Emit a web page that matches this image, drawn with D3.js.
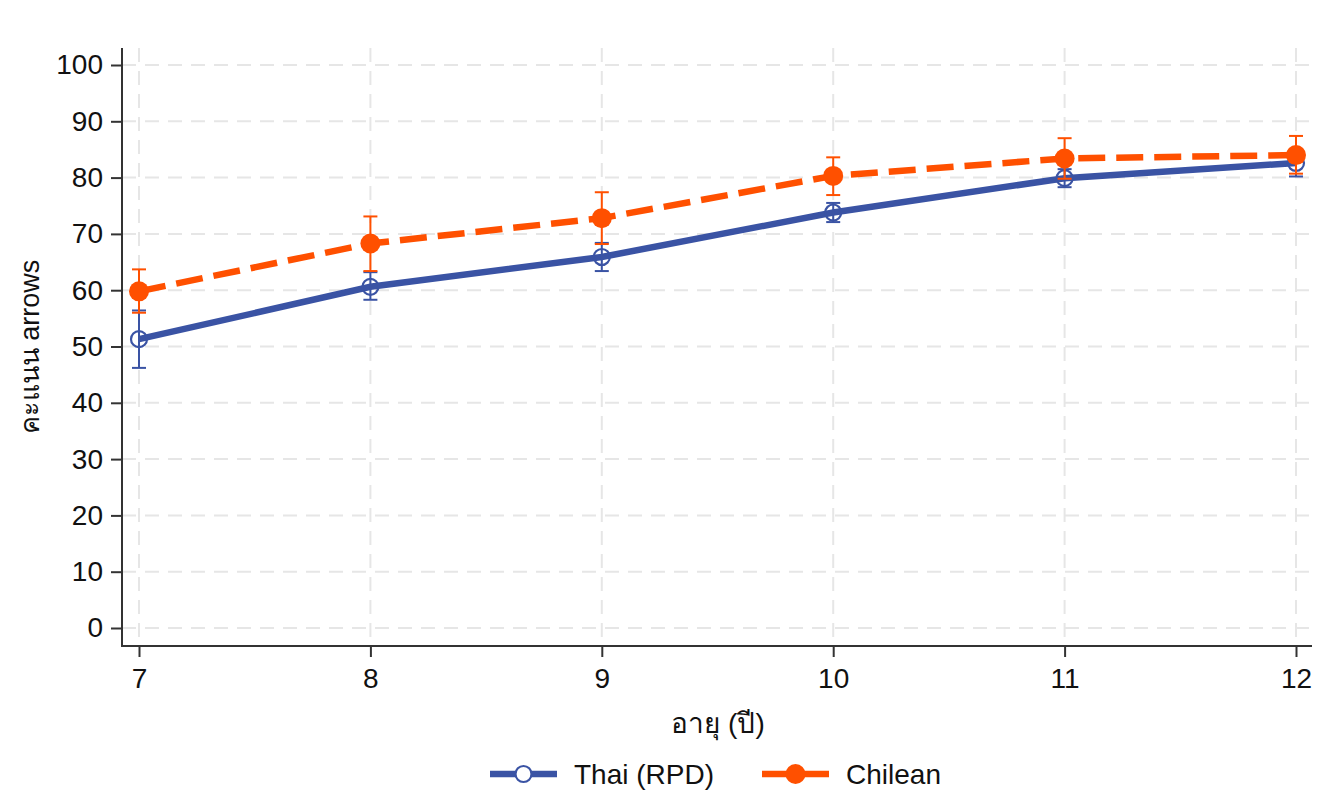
<!DOCTYPE html>
<html>
<head>
<meta charset="utf-8">
<script src="https://cdn.jsdelivr.net/npm/d3@7"></script>
<style>
  body { margin: 0; background: #fff; }
  svg text { font-family: "Liberation Sans", Arial, sans-serif; fill: #111; }
</style>
</head>
<body>
<div id="chart"></div>
<script>
const ages = [7, 8, 9, 10, 11, 12];
const thaiMean = [51.3, 60.6, 65.9, 73.8, 79.9, 82.6];
const thaiLow = [46.2, 58.3, 63.4, 72.1, 78.3, 80.2];
const thaiHigh = [56.4, 63.2, 68.4, 75.5, 81.5, 85.0];
const chileMean = [59.8, 68.3, 72.8, 80.3, 83.4, 84.0];
const chileLow = [56.0, 63.4, 68.2, 76.9, 79.8, 80.7];
const chileHigh = [63.7, 73.1, 77.4, 83.6, 87.0, 87.4];
const yTicks = [0, 10, 20, 30, 40, 50, 60, 70, 80, 90, 100];

const width = 1344, height = 809;
const svg = d3.select("#chart").append("svg")
  .attr("width", width).attr("height", height);

const x = d3.scaleLinear().domain([7, 12]).range([139, 1296]);
const y = d3.scaleLinear().domain([0, 100]).range([628, 65]);

const plotLeft = 122, plotBottom = 646, plotTop = 48, plotRight = 1312;

// grid
const grid = svg.append("g").attr("stroke", "#e6e6e6").attr("stroke-width", 2)
  .attr("stroke-dasharray", "14,9");
grid.selectAll(".gy").data(yTicks).enter().append("line")
  .attr("x1", plotLeft).attr("x2", plotRight)
  .attr("y1", d => y(d)).attr("y2", d => y(d));
grid.selectAll(".gx").data(ages).enter().append("line")
  .attr("x1", d => x(d)).attr("x2", d => x(d))
  .attr("y1", plotTop).attr("y2", plotBottom);

// axes
const yAxis = svg.append("g").attr("transform", `translate(${plotLeft},0)`)
  .call(d3.axisLeft(y).tickValues(yTicks).tickSize(11).tickPadding(8));
const xAxis = svg.append("g").attr("transform", `translate(0,${plotBottom})`)
  .call(d3.axisBottom(x).tickValues(ages).tickSize(11).tickPadding(11).tickFormat(d3.format("d")));
[yAxis, xAxis].forEach(a => {
  a.select(".domain").remove();
  a.selectAll(".tick line").attr("stroke", "#333").attr("stroke-width", 2);
  a.selectAll(".tick text").style("font-size", "28px").attr("fill", "#111");
});
svg.append("line").attr("x1", plotLeft).attr("x2", plotLeft).attr("y1", plotTop).attr("y2", plotBottom + 1)
  .attr("stroke", "#333").attr("stroke-width", 2);
svg.append("line").attr("x1", plotLeft - 1).attr("x2", plotRight).attr("y1", plotBottom).attr("y2", plotBottom)
  .attr("stroke", "#333").attr("stroke-width", 2);

// labels
svg.append("text").attr("transform", `translate(39,347) rotate(-90)`)
  .attr("text-anchor", "middle").style("font-size", "27px").text("คะแนน arrows");
svg.append("text").attr("x", 718).attr("y", 733)
  .attr("text-anchor", "middle").style("font-size", "28px").text("อายุ (ปี)");

const series = [
  { name: "Thai (RPD)", color: "#3a53a4", mean: thaiMean, lo: thaiLow, hi: thaiHigh, dash: null, filled: false },
  { name: "Chilean", color: "#ff5000", mean: chileMean, lo: chileLow, hi: chileHigh, dash: "27,11", filled: true }
];

const line = d3.line().x(d => x(d[0])).y(d => y(d[1]));

series.forEach(s => {
  const pts = ages.map((a, i) => [a, s.mean[i]]);
  const g = svg.append("g");
  g.append("path").datum(pts).attr("d", line)
    .attr("fill", "none").attr("stroke", s.color).attr("stroke-width", 6.5)
    .attr("stroke-dasharray", s.dash);
  const eb = g.selectAll(".eb").data(ages.map((a, i) => ({ a, lo: s.lo[i], hi: s.hi[i], m: s.mean[i] })))
    .enter().append("g").attr("stroke", s.color).attr("stroke-width", 2);
  eb.append("line").attr("x1", d => x(d.a)).attr("x2", d => x(d.a))
    .attr("y1", d => y(d.lo)).attr("y2", d => y(d.hi));
  eb.append("line").attr("x1", d => x(d.a) - 7).attr("x2", d => x(d.a) + 7)
    .attr("y1", d => y(d.lo)).attr("y2", d => y(d.lo));
  eb.append("line").attr("x1", d => x(d.a) - 7).attr("x2", d => x(d.a) + 7)
    .attr("y1", d => y(d.hi)).attr("y2", d => y(d.hi));
  g.selectAll(".pt").data(pts).enter().append("circle")
    .attr("cx", d => x(d[0])).attr("cy", d => y(d[1]))
    .attr("r", s.filled ? 10 : 8)
    .attr("fill", s.filled ? s.color : "none")
    .attr("stroke", s.color).attr("stroke-width", s.filled ? 0 : 2.2);
});

// legend
const legendX = [490, 762];
series.forEach((s, i) => {
  const lg = svg.append("g").attr("transform", `translate(${legendX[i]},774)`);
  lg.append("line").attr("x1", 0).attr("x2", 67).attr("stroke", s.color).attr("stroke-width", 6.5);
  lg.append("circle").attr("cx", 33.5).attr("r", s.filled ? 10 : 8)
    .attr("fill", s.filled ? s.color : "#fff").attr("stroke", s.color).attr("stroke-width", s.filled ? 0 : 2.2);
  lg.append("text").attr("x", 84).attr("y", 10).style("font-size", "28px").text(s.name);
});
</script>
</body>
</html>
